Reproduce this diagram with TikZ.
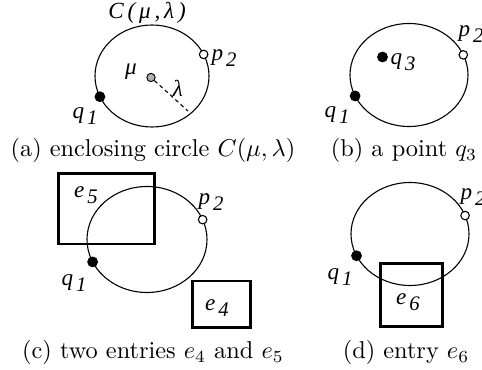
\documentclass[tikz,border=0pt]{standalone}
\usepackage{fontspec}
\newfontfamily\labf{Liberation Serif}[ItalicFont={Liberation Serif Italic}]
\usetikzlibrary{calc}
\newcommand{\lsub}[2]{#1\kern1.2pt\raisebox{-2.6pt}{\fontsize{8.5}{9}\selectfont #2}}
\tikzset{
  ell/.style={draw, line width=0.45pt},
  entry/.style={draw, line width=1.1pt},
  fdot/.style={circle, fill=black, draw=black, line width=0.4pt, inner sep=0pt, minimum size=4pt},
  odot/.style={circle, fill=white, draw=black, line width=0.45pt, inner sep=0pt, minimum size=3.5pt},
  gdot/.style={circle, fill=black!30, draw=black, line width=0.4pt, inner sep=0pt, minimum size=3.4pt},
  lab/.style={font=\labf\itshape\fontsize{9.5}{11}\selectfont, inner sep=0pt},
  captxt/.style={font=\normalsize, anchor=base, inner sep=0pt},
  rad/.style={draw, line width=0.45pt, dash pattern=on 1.6pt off 1.3pt},
}
\begin{document}
\begin{tikzpicture}[x=0.411pt,y=0.411pt]
\useasboundingbox (0,0) rectangle (482,370);
% ---------- (a)
\coordinate (ca) at (152,294);
\draw[ell] (ca) ellipse [x radius=57, y radius=51];
\node[fdot] (aq1) at ($(ca)+(204:57 and 51)$) {};
\node[odot] (ap2) at ($(ca)+(25:57 and 51)$) {};
\node[gdot] (amu) at (151,292.5) {};
\coordinate (aend) at (188,259);
\draw[rad] (amu) -- (aend);
\node[lab] (lC) at (147,357) {C\,(\,μ\,,\,λ\,)};
\node[lab] (lmu) at (131,298) {μ};
\node[lab] (llam) at (178,282) {λ};
\node[lab] (lap2) at (224,312) {\lsub{p}{2}};
\node[lab] (laq1) at (85,254) {\lsub{q}{1}};
\node[captxt] (capa) at (153,213) {(a) enclosing circle $C(\mu,\lambda)$};
% ---------- (b)
\coordinate (cb) at (409,295);
\draw[ell] (cb) ellipse [x radius=59, y radius=51.5];
\node[fdot] (bq1) at ($(cb)+(204:59 and 51.5)$) {};
\node[odot] (bp2) at ($(cb)+(23:59 and 51.5)$) {};
\node[fdot] (bq3) at (382.5,313) {};
\node[lab] (lbq3) at (403,308) {\lsub{q}{3}};
\node[lab] (lbp2) at (471,336) {\lsub{p}{2}};
\node[lab] (lbq1) at (337,255) {\lsub{q}{1}};
\node[captxt] (capb) at (404,213) {(b) a point $q_3$};
% ---------- (c)
\coordinate (cc) at (147,130.5);
\draw[ell] (cc) ellipse [x radius=60, y radius=53];
\node[fdot] (cq1) at ($(cc)+(205:60 and 53)$) {};
\node[odot] (cp2) at ($(cc)+(22:60 and 53)$) {};
\draw[entry] (58.3,126) rectangle (154.3,196.7);
\node[lab] (le5) at (86,175) {\lsub{e}{5}};
\draw[entry] (192.3,42.3) rectangle (250.3,89);
\node[lab] (le4) at (217,62) {\lsub{e}{4}};
\node[lab] (lcp2) at (211,168) {\lsub{p}{2}};
\node[lab] (lcq1) at (74,87) {\lsub{q}{1}};
\node[captxt] (capc) at (153,11) {(c) two entries $e_4$ and $e_5$};
% ---------- (d)
\coordinate (cd) at (410,136);
\draw[ell] (cd) ellipse [x radius=59, y radius=51.5];
\node[fdot] (dq1) at ($(cd)+(205:59 and 51.5)$) {};
\node[odot] (dp2) at ($(cd)+(21:59 and 51.5)$) {};
\draw[entry] (380.3,43.3) rectangle (442.7,106.7);
\node[lab] (le6) at (408,68) {\lsub{e}{6}};
\node[lab] (ldp2) at (473,173) {\lsub{p}{2}};
\node[lab] (ldq1) at (340,93) {\lsub{q}{1}};
\node[captxt] (capd) at (406,11) {(d) entry $e_6$};
\end{tikzpicture}
\end{document}
